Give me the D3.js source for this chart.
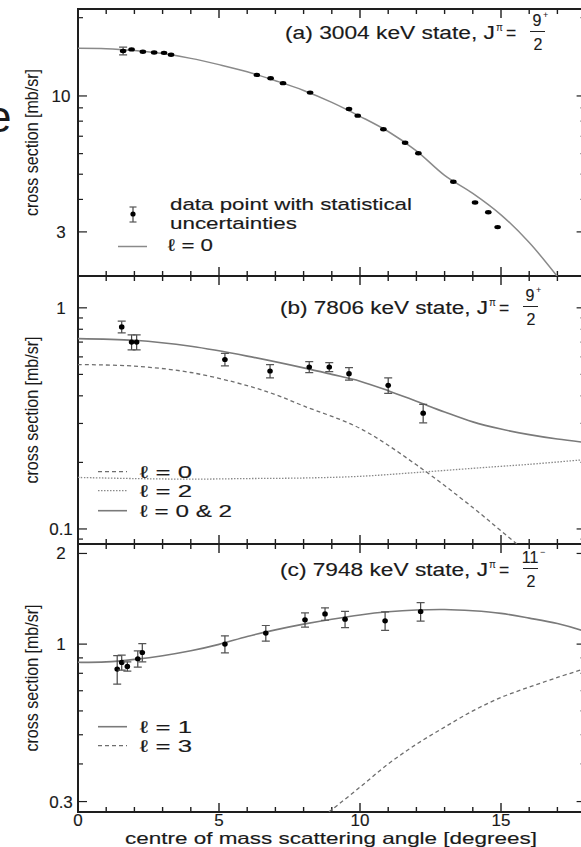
<!DOCTYPE html>
<html><head><meta charset="utf-8">
<script src="https://cdn.jsdelivr.net/npm/d3@7"></script>
<style>body{margin:0;background:#fff}svg{display:block}text{font-family:"Liberation Sans",Arial,sans-serif;fill:#1a1a1a;stroke:#1a1a1a;stroke-width:0.15}</style>
</head><body>
<svg id="c" width="581" height="847"></svg>
<script>
// ---------- data ----------
// Panel (a) 3004 keV
const aAngle = [1.6, 1.9, 2.3, 2.7, 3.05, 3.3, 6.34, 6.83, 7.27, 8.23, 9.61, 9.92, 10.83, 11.6, 12.07, 13.31, 14.08, 14.55, 14.88];
const aValue = [14.9, 15.1, 14.8, 14.7, 14.65, 14.4, 12.05, 11.7, 11.2, 10.3, 8.91, 8.4, 7.45, 6.61, 6.02, 4.68, 3.89, 3.57, 3.13];
const aError = [0.5, 0.2, 0.15, 0.15, 0.15, 0.3, 0.12, 0.12, 0.12, 0.1, 0.1, 0.1, 0.08, 0.08, 0.07, 0.06, 0.06, 0.06, 0.06];
const aFitAngle = [0, 1, 2, 3, 4, 5, 6, 7, 8, 9, 10, 11, 12, 13, 14, 15, 16, 17];
const aFitL0 = [15.25, 15.2, 14.95, 14.55, 13.95, 13.2, 12.4, 11.45, 10.5, 9.45, 8.35, 7.3, 6.15, 4.95, 4.22, 3.49, 2.73, 2.02];

// Panel (b) 7806 keV
const bAngle = [1.55, 1.9, 2.08, 5.21, 6.81, 8.2, 8.91, 9.61, 11.0, 12.24];
const bValue = [0.82, 0.70, 0.70, 0.584, 0.518, 0.540, 0.540, 0.504, 0.446, 0.334];
const bError = [0.05, 0.055, 0.055, 0.038, 0.036, 0.031, 0.025, 0.033, 0.036, 0.032];
const bFitAngle = [0, 2, 4, 6, 8, 9, 10, 11, 12, 13, 14, 15, 16, 17, 18];
const bFitL02 = [0.726, 0.713, 0.67, 0.605, 0.535, 0.50, 0.466, 0.422, 0.378, 0.338, 0.305, 0.283, 0.267, 0.255, 0.246];
const bFitL0Angle = [0, 2, 4, 6, 7, 8, 10, 12, 14, 15, 16, 17];
const bFitL0 = [0.554, 0.545, 0.51, 0.445, 0.405, 0.36, 0.285, 0.195, 0.125, 0.098, 0.077, 0.06];
const bFitL2Angle = [0, 2, 4, 6, 8, 10, 12, 14, 15, 16, 18];
const bFitL2 = [0.171, 0.169, 0.168, 0.169, 0.17, 0.173, 0.18, 0.188, 0.192, 0.196, 0.206];

// Panel (c) 7948 keV
const cAngle = [1.39, 1.55, 1.75, 2.12, 2.28, 5.21, 6.66, 8.05, 8.76, 9.47, 10.89, 12.15];
const cValue = [0.826, 0.869, 0.843, 0.894, 0.938, 1.0, 1.088, 1.204, 1.26, 1.21, 1.195, 1.283];
const cError = [0.09, 0.05, 0.03, 0.055, 0.065, 0.065, 0.065, 0.065, 0.06, 0.075, 0.085, 0.09];
const cFitAngle = [0, 1, 2, 3, 4, 5, 6, 7, 8, 9, 10, 11, 12, 13, 14, 15, 16, 17, 18];
const cFitL1 = [0.87, 0.873, 0.89, 0.915, 0.95, 0.998, 1.06, 1.115, 1.165, 1.21, 1.25, 1.28, 1.298, 1.303, 1.29, 1.265, 1.22, 1.17, 1.10];
const cFitL3Angle = [8.5, 9, 10, 11, 12, 13, 14, 15, 16, 17, 18];
const cFitL3 = [0.26, 0.282, 0.335, 0.40, 0.465, 0.53, 0.60, 0.665, 0.72, 0.775, 0.83];

// tick labels
const xTickLabels = [0, 5, 10, 15];
const aMajor = [3, 10], aMinor = [4, 5, 6, 7, 8, 9, 20];
const bMajor = [0.1, 1], bMinor = [0.09, 0.2, 0.3, 0.4, 0.5, 0.6, 0.7, 0.8, 0.9];
const cMajor = [0.3, 1, 2], cMinor = [0.4, 0.5, 0.6, 0.7, 0.8, 0.9];

// ---------- layout ----------
const svg = d3.select('#c');
const L = 78, R = 585.6;
const x = d3.scaleLinear().domain([0, 18]).range([L, R]);
const panels = [
  {id:'a', top:9, bot:276, dom:[2.03, 21.6], major:aMajor, minor:aMinor},
  {id:'b', top:276, bot:544, dom:[0.0855, 1.393], major:bMajor, minor:bMinor},
  {id:'c', top:544, bot:812, dom:[0.277, 2.15], major:cMajor, minor:cMinor}
];
panels.forEach(p => { p.y = d3.scaleLog().domain(p.dom).range([p.bot, p.top]); });

const defs = svg.append('defs');
panels.forEach(p => {
  defs.append('clipPath').attr('id', 'clip' + p.id).append('rect')
    .attr('x', L).attr('y', p.top).attr('width', R - L).attr('height', p.bot - p.top);
});

const axisCol = '#1e1e1e';
panels.forEach(p => {
  const g = svg.append('g');
  d3.range(0, 18, 1).forEach(v => {
    const len = v % 5 === 0 ? 9 : 5;
    g.append('line').attr('x1', x(v)).attr('x2', x(v)).attr('y1', p.top).attr('y2', p.top + len)
      .attr('stroke', axisCol).attr('stroke-width', 1.4);
    g.append('line').attr('x1', x(v)).attr('x2', x(v)).attr('y1', p.bot).attr('y2', p.bot - len)
      .attr('stroke', axisCol).attr('stroke-width', 1.4);
  });
  const yt = (vals, len) => vals.forEach(v => {
    const yy = p.y(v);
    g.append('line').attr('x1', L).attr('x2', L + len).attr('y1', yy).attr('y2', yy)
      .attr('stroke', axisCol).attr('stroke-width', 1.2);
    g.append('line').attr('x1', R).attr('x2', R - len).attr('y1', yy).attr('y2', yy)
      .attr('stroke', axisCol).attr('stroke-width', 1.2);
  });
  yt(p.major, 9); yt(p.minor, 5);
  p.major.forEach(v => {
    g.append('text').attr('x', 61).attr('y', p.y(v) + 6).attr('text-anchor', 'middle')
      .attr('font-size', 17).text(d3.format('~g')(v));
  });
  g.append('rect').attr('x', L).attr('y', p.top).attr('width', R - L).attr('height', p.bot - p.top)
    .attr('fill', 'none').attr('stroke', axisCol).attr('stroke-width', 2);
  const yc = (p.top + p.bot) / 2;
  g.append('text').attr('transform', `translate(38,${yc}) rotate(-90)`).attr('text-anchor', 'middle')
    .attr('font-size', 18).attr('textLength', 147).attr('lengthAdjust', 'spacingAndGlyphs')
    .style('stroke-width', 0.05)
    .text('cross section [mb/sr]');
});

xTickLabels.forEach(v => {
  svg.append('text').attr('x', x(v)).attr('y', 826).attr('text-anchor', 'middle').attr('font-size', 17).text(v);
});
svg.append('text').attr('x', 125).attr('y', 844).attr('font-size', 16.5)
  .attr('textLength', 412).attr('lengthAdjust', 'spacingAndGlyphs')
  .text('centre of mass scattering angle [degrees]');

// stray letter at far left (cut off in the reference)
svg.append('text').attr('x', -13).attr('y', 132).attr('font-size', 44).style('stroke-width', 0).text('e');

// ---------- curves ----------
function curve(p, xs, ys, style) {
  const line = d3.line().x((d, i) => x(xs[i])).y(d => p.y(d)).curve(d3.curveCatmullRom);
  svg.append('path').attr('clip-path', `url(#clip${p.id})`).attr('d', line(ys))
    .attr('fill', 'none').attr('stroke', style.c).attr('stroke-width', style.w)
    .attr('stroke-dasharray', style.dash || null);
}
const solid = {c:'#7a7a7a', w:1.6};
const dashed = {c:'#6e6e6e', w:1.3, dash:'4,3'};
const dotted = {c:'#8a8a8a', w:1.3, dash:'1.5,1.5'};

curve(panels[0], aFitAngle, aFitL0, {c:'#8a8a8a', w:1.5});
curve(panels[1], bFitL0Angle, bFitL0, dashed);
curve(panels[1], bFitL2Angle, bFitL2, dotted);
curve(panels[1], bFitAngle, bFitL02, solid);
curve(panels[2], cFitAngle, cFitL1, solid);
curve(panels[2], cFitL3Angle, cFitL3, dashed);

// ---------- data points ----------
function points(p, xs, ys, es, rx, ry) {
  const g = svg.append('g').attr('clip-path', `url(#clip${p.id})`);
  xs.forEach((a, i) => {
    const cx = x(a), y1 = p.y(ys[i] + es[i]), y2 = p.y(ys[i] - es[i]);
    if (y2 - y1 > 5) {
      g.append('line').attr('x1', cx).attr('x2', cx).attr('y1', y1).attr('y2', y2).attr('stroke', '#444').attr('stroke-width', 1.2);
      [y1, y2].forEach(yy => g.append('line').attr('x1', cx - 4).attr('x2', cx + 4).attr('y1', yy).attr('y2', yy)
        .attr('stroke', '#555').attr('stroke-width', 1.2));
    }
    g.append('ellipse').attr('cx', cx).attr('cy', p.y(ys[i])).attr('rx', rx).attr('ry', ry).attr('fill', '#000');
  });
}
points(panels[0], aAngle, aValue, aError, 3.3, 2.2);
points(panels[1], bAngle, bValue, bError, 2.8, 2.6);
points(panels[2], cAngle, cValue, cError, 2.8, 2.6);

// ---------- panel titles ----------
function title(letter, energy, num, sup, x0, w, dy) {
  svg.append('text').attr('x', x0).attr('y', 39 + dy).attr('font-size', 17.5)
    .attr('textLength', w).attr('lengthAdjust', 'spacingAndGlyphs')
    .text(`(${letter}) ${energy} keV state, J`);
  const xe = x0 + w;
  svg.append('text').attr('x', xe + 1).attr('y', 31 + dy).attr('font-size', 10).style('stroke-width', 0.05).text('π');
  svg.append('text').attr('x', xe + 11).attr('y', 39 + dy).attr('font-size', 17.5).text('=');
  const fx = xe + 43;
  svg.append('text').attr('x', fx - 1).attr('y', 26 + dy).attr('text-anchor', 'middle').attr('font-size', 16).text(num);
  svg.append('text').attr('x', fx + (num.length > 1 ? 9 : 5)).attr('y', 18 + dy).attr('font-size', 9).style('stroke-width', 0.05).text(sup);
  svg.append('line').attr('x1', fx - 8).attr('x2', fx + 7).attr('y1', 31.5 + dy).attr('y2', 31.5 + dy)
    .attr('stroke', '#222').attr('stroke-width', 1);
  svg.append('text').attr('x', fx).attr('y', 50 + dy).attr('text-anchor', 'middle').attr('font-size', 16).text('2');
}
title('a', '3004', '9', '+', 285, 210, 0);
title('b', '7806', '9', '+', 280, 208, 275);
title('c', '7948', '11', '−', 280, 208, 537);

// ---------- legends ----------
(function(){
  const lx = 133, ly = 214;
  svg.append('line').attr('x1', lx).attr('x2', lx).attr('y1', ly - 7).attr('y2', ly + 8).attr('stroke', '#444').attr('stroke-width', 1.2);
  [ly - 7, ly + 8].forEach(yy => svg.append('line').attr('x1', lx - 3.5).attr('x2', lx + 3.5).attr('y1', yy).attr('y2', yy).attr('stroke', '#555').attr('stroke-width', 1.2));
  svg.append('ellipse').attr('cx', lx).attr('cy', ly).attr('rx', 2.6).attr('ry', 2.6).attr('fill', '#000');
  svg.append('text').attr('x', 170).attr('y', 210).attr('font-size', 17).attr('textLength', 242).attr('lengthAdjust', 'spacingAndGlyphs').text('data point with statistical');
  svg.append('text').attr('x', 170).attr('y', 229).attr('font-size', 17).attr('textLength', 127).attr('lengthAdjust', 'spacingAndGlyphs').text('uncertainties');
  svg.append('line').attr('x1', 118).attr('x2', 147).attr('y1', 246.5).attr('y2', 246.5).attr('stroke', '#8a8a8a').attr('stroke-width', 1.5);
  svg.append('text').attr('x', 168).attr('y', 251).attr('font-size', 17).attr('textLength', 45).attr('lengthAdjust', 'spacingAndGlyphs').text('ℓ = 0');
})();
function legendRow(yc, style, label, w) {
  svg.append('line').attr('x1', 98).attr('x2', 127).attr('y1', yc).attr('y2', yc)
    .attr('stroke', style.c).attr('stroke-width', style.w).attr('stroke-dasharray', style.dash || null);
  svg.append('text').attr('x', 140).attr('y', yc + 6).attr('font-size', 17)
    .attr('textLength', w).attr('lengthAdjust', 'spacingAndGlyphs').text(label);
}
legendRow(471.7, dashed, 'ℓ  = 0', 52);
legendRow(490.7, dotted, 'ℓ  = 2', 52);
legendRow(510.7, solid, 'ℓ  = 0 & 2', 92);
legendRow(726.7, solid, 'ℓ  = 1', 52);
legendRow(745.7, dashed, 'ℓ  = 3', 52);
</script>
</body></html>
